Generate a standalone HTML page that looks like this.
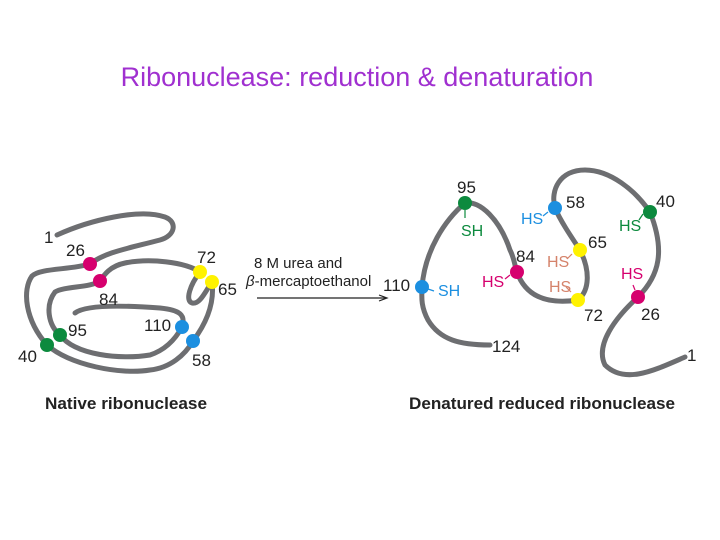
<!DOCTYPE html>
<html><head><meta charset="utf-8"><style>
html,body{margin:0;padding:0;background:#fff;width:720px;height:540px;overflow:hidden}
</style></head><body>
<svg width="720" height="540" viewBox="0 0 720 540" xmlns="http://www.w3.org/2000/svg" font-family="Liberation Sans, sans-serif">
<text x="357" y="86" font-size="27" fill="#a030d0" text-anchor="middle">Ribonuclease: reduction &amp; denaturation</text>
<g fill="none" stroke="#6d6e71" stroke-width="5" stroke-linecap="round">
<path d="M57,235 C90,220 140,208 165,217 C178,222 175,236 160,240 C130,248 105,252 90,264 C70,270 40,268 32,276 C22,290 25,320 47,345 C70,365 120,375 150,370 C170,368 185,355 193,341 C205,325 215,305 212,282"/>
<path d="M200,272 C190,285 185,300 192,303 C200,305 206,290 212,282"/>
<path d="M200,272 C185,262 150,258 125,263 C110,266 104,275 100,281 C90,288 65,286 55,292 C45,305 48,325 60,335 C75,355 120,360 150,355 C165,350 175,340 182,327 C186,315 180,310 160,308 C120,305 85,305 75,313"/>
<path d="M490,345 C460,345 440,340 428,320 C420,305 422,295 422,287 C425,250 445,220 465,203 C480,200 500,220 510,250 C515,260 515,268 517,272 C525,295 545,305 578,300 C590,290 590,270 580,250 C570,235 560,220 555,208 C550,190 560,170 585,170 C610,170 635,190 650,212 C665,250 660,275 638,297 C615,318 595,345 605,365 C625,385 655,370 685,357"/>
</g>
<g>
<circle cx="90" cy="264" r="7" fill="#d6006e"/><circle cx="100" cy="281" r="7" fill="#d6006e"/>
<circle cx="200" cy="272" r="7" fill="#fff200"/><circle cx="212" cy="282" r="7" fill="#fff200"/>
<circle cx="47" cy="345" r="7" fill="#0c8a3e"/><circle cx="60" cy="335" r="7" fill="#0c8a3e"/>
<circle cx="182" cy="327" r="7" fill="#1c8fe0"/><circle cx="193" cy="341" r="7" fill="#1c8fe0"/>
<circle cx="422" cy="287" r="7" fill="#1c8fe0"/><circle cx="465" cy="203" r="7" fill="#0c8a3e"/>
<circle cx="517" cy="272" r="7" fill="#d6006e"/><circle cx="578" cy="300" r="7" fill="#fff200"/>
<circle cx="580" cy="250" r="7" fill="#fff200"/><circle cx="555" cy="208" r="7" fill="#1c8fe0"/>
<circle cx="650" cy="212" r="7" fill="#0c8a3e"/><circle cx="638" cy="297" r="7" fill="#d6006e"/>
</g>
<g stroke-width="1.2" fill="none">
<path d="M465,210 V218" stroke="#0c8a3e"/><path d="M428,289 L434,291" stroke="#1c8fe0"/>
<path d="M510,275 L505,279" stroke="#d6006e"/><path d="M548,212 L543,216" stroke="#1c8fe0"/>
<path d="M572,254 L567,259" stroke="#d5836b"/><path d="M571,292 L566,287" stroke="#d5836b"/>
<path d="M643,214 L639,220" stroke="#0c8a3e"/><path d="M635,290 L633,285" stroke="#d6006e"/>
</g>
<g font-size="17" fill="#222">
<text x="44" y="243">1</text><text x="66" y="256">26</text><text x="197" y="263">72</text>
<text x="218" y="295">65</text><text x="99" y="305">84</text><text x="68" y="336">95</text>
<text x="144" y="331">110</text><text x="18" y="362">40</text><text x="192" y="366">58</text>
<text x="457" y="193">95</text><text x="566" y="208">58</text><text x="656" y="207">40</text>
<text x="516" y="262">84</text><text x="588" y="248">65</text><text x="383" y="291">110</text>
<text x="584" y="321">72</text><text x="641" y="320">26</text><text x="492" y="352">124</text>
<text x="687" y="361">1</text>
</g>
<g font-size="16">
<text x="461" y="236" fill="#0c8a3e">SH</text><text x="438" y="296" fill="#1c8fe0">SH</text>
<text x="482" y="287" fill="#d6006e">HS</text><text x="521" y="224" fill="#1c8fe0">HS</text>
<text x="547" y="267" fill="#d5836b">HS</text><text x="549" y="292" fill="#d5836b">HS</text>
<text x="619" y="231" fill="#0c8a3e">HS</text><text x="621" y="279" fill="#d6006e">HS</text>
</g>
<text x="254" y="268" font-size="15" fill="#222">8 M urea and</text>
<text x="246" y="286" font-size="15" fill="#222"><tspan font-style="italic">β</tspan>-mercaptoethanol</text>
<path d="M257,298 H386" stroke="#222" stroke-width="1.2"/>
<path d="M379,295 L387,298 L379,301" stroke="#222" stroke-width="1.2" fill="none"/>
<text x="45" y="409" font-size="17" font-weight="bold" fill="#222" textLength="162" lengthAdjust="spacingAndGlyphs">Native ribonuclease</text>
<text x="409" y="409" font-size="17" font-weight="bold" fill="#222" textLength="266" lengthAdjust="spacingAndGlyphs">Denatured reduced ribonuclease</text>
</svg>
</body></html>
